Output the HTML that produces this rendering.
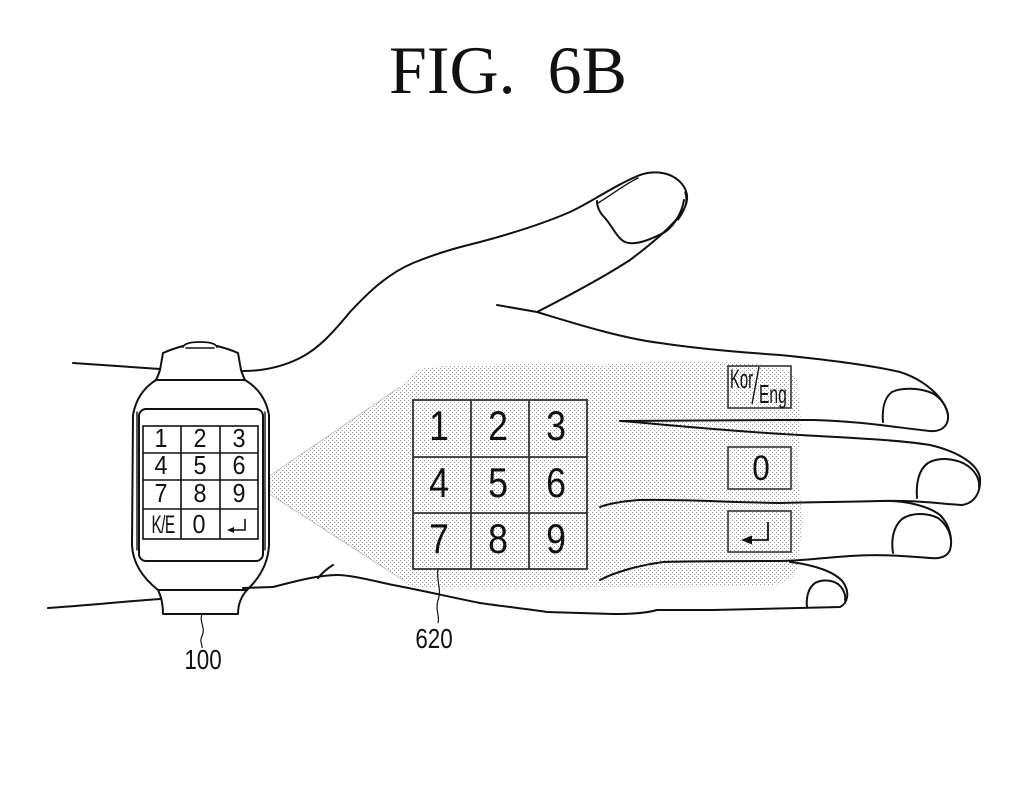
<!DOCTYPE html>
<html>
<head>
<meta charset="utf-8">
<style>
html,body{margin:0;padding:0;background:#fff;}
svg{display:block;}
text{font-family:"Liberation Sans",sans-serif;fill:#111;}
</style>
</head>
<body>
<svg width="1020" height="793" viewBox="0 0 1020 793" xmlns="http://www.w3.org/2000/svg">
<defs>
<pattern id="dots" width="4" height="4" patternUnits="userSpaceOnUse">
<rect x="0" y="0" width="1" height="1" fill="#999"/>
<rect x="2" y="2" width="1" height="1" fill="#999"/>
</pattern>
</defs>
<rect width="1020" height="793" fill="#fff"/>

<!-- Title -->
<text x="389" y="93" font-size="68" style="font-family:'Liberation Serif',serif">FIG.</text>
<text x="627" y="93" text-anchor="end" font-size="68" style="font-family:'Liberation Serif',serif">6B</text>

<!-- projection / stipple region -->
<path d="M268,477 L400,387 L416,370 Q440,364 480,366 Q540,360 600,365 Q660,360 730,362 Q790,364 797,380 L801,420 L797,470 L803,520 L797,570 Q790,586 760,586 L420,588 Q405,586 403,580 L268,493 Z" fill="url(#dots)"/>
<path d="M268,477 L400,387 M268,493 L403,580" stroke="#aaa" stroke-width="0.7" fill="none"/>

<g fill="none" stroke="#111" stroke-width="2" stroke-linecap="round" stroke-linejoin="round">
<!-- wrist lines left -->
<path d="M73,363 C100,365 130,367 160,369"/>
<path d="M48,608 C90,605 130,601 160,599"/>
<!-- hand top / thumb -->
<path d="M243,371 C260,371 280,368 300,358 C320,348 335,330 350,312 C365,296 385,275 413,263 C440,252 460,247 480,242 C510,234 540,225 570,212 C590,203 615,185 640,175 C655,170 672,172 682,184 C690,194 688,205 680,215 C670,228 650,245 630,260 C610,273 580,290 537,312"/>
<path d="M598,203 C610,196 625,184 638,178" stroke-width="1.4"/>
<path d="M685,192 C688,202 685,211 678,220" stroke-width="1.4"/>
<!-- thumbnail -->
<path d="M597,201 C597,208 600,213 605,218 C612,226 617,238 625,242 C635,246 650,240 665,232 C675,225 682,212 684,200"/>
<!-- index finger -->
<path d="M497,305 L537,312 C570,322 620,338 660,343 C700,349 750,353 780,355 C830,360 870,365 900,372 C925,380 945,398 948,415 C949,427 940,432 930,431 C900,428 860,421 813,420 L780,420 C720,420 660,421 620,421"/>
<path d="M883,422 C882,410 884,398 892,392 C902,387 920,388 932,393 C942,398 947,408 948,415"/>
<!-- middle finger -->
<path d="M622,421 C680,426 740,432 800,435 C850,438 900,440 930,445 C960,452 978,465 980,478 C981,492 975,503 962,505 C940,504 920,500 880,501 C840,502 810,502 780,503 C720,502 680,499 640,500 C620,501 605,505 600,507"/>
<path d="M917,498 C916,485 918,470 928,463 C940,456 958,459 968,466 C976,472 980,480 979,487"/>
<!-- ring finger -->
<path d="M880,501 C905,500 928,506 940,515 C950,525 953,540 950,550 C947,557 940,559 930,558 C905,556 880,554 850,556 C820,558 800,561 780,561 C740,561 700,561 663,562 C640,565 615,572 600,580"/>
<path d="M893,553 C891,540 893,527 902,519 C912,512 928,513 938,518 C946,524 950,532 951,540"/>
<!-- pinky -->
<path d="M790,562 C815,565 835,572 843,582 C850,592 848,603 840,607 C800,608 760,609 713,610 C690,610 665,610 657,610 C650,612 640,614 613,614 C580,613 550,612 547,612 C520,608 500,606 480,603 C450,597 420,590 393,585 C370,580 350,575 337,575 C320,575 300,580 273,587 L243,588"/>
<path d="M807,607 C806,598 808,588 815,583 C822,579 832,580 838,584 C844,589 846,596 845,600"/>
<path d="M318,578 C323,572 328,568 333,565"/>

<!-- watch -->
<path d="M183,347 Q185,342 200,342 Q215,342 217,347" stroke-width="1.8"/>
<path d="M186,348 L214,348" stroke-width="1.6"/>
<path d="M183,346 Q172,349 163,353 L160,370 Q158,376 156,380 Q137,392 133,415 L132,545 Q133,570 158,590 Q163,600 163,614 L238,614 Q238,600 247,590 Q268,570 269,545 L269,415 Q265,392 245,380 Q243,376 241,370 L238,353 Q229,349 217,346"/>
<path d="M156,380 L245,380"/>
<path d="M158,590 L247,590"/>
<path d="M137,412 L137,550 M265,412 L265,550" stroke-width="1.4"/>
<rect x="139" y="409" width="124" height="152" rx="7" ry="7"/>
</g>

<!-- watch keypad -->
<g fill="none" stroke="#111" stroke-width="1.6">
<rect x="143" y="426" width="115" height="113"/>
<path d="M181,426 L181,539 M220,426 L220,539 M143,453 L258,453 M143,480 L258,480 M143,509 L258,509"/>
</g>
<g font-size="26" text-anchor="middle">
<text transform="translate(161,447) scale(0.9,1)">1</text>
<text transform="translate(200,447) scale(0.9,1)">2</text>
<text transform="translate(239,447) scale(0.9,1)">3</text>
<text transform="translate(161,474) scale(0.9,1)">4</text>
<text transform="translate(200,474) scale(0.9,1)">5</text>
<text transform="translate(239,474) scale(0.9,1)">6</text>
<text transform="translate(161,502) scale(0.9,1)">7</text>
<text transform="translate(200,502) scale(0.9,1)">8</text>
<text transform="translate(239,502) scale(0.9,1)">9</text>
<text transform="translate(163,533) scale(0.62,1)" font-size="25" letter-spacing="-1">K/E</text>
<text transform="translate(199,533) scale(0.9,1)">0</text>
</g>
<path d="M245,519 L245,530 L233,530" fill="none" stroke="#111" stroke-width="1.6"/>
<path d="M227,530 L234,527 L234,533 Z" fill="#111"/>

<!-- leaders -->
<path d="M202,614 C199,622 206,628 202,636 C199,642 203,645 202,648" fill="none" stroke="#111" stroke-width="1.2"/>
<path d="M438,569 C436,580 442,590 438,600 C435,610 440,616 438,623" fill="none" stroke="#111" stroke-width="1.2"/>
<text transform="translate(203,669) scale(0.8,1)" font-size="28" text-anchor="middle">100</text>
<text transform="translate(434,648) scale(0.8,1)" font-size="28" text-anchor="middle">620</text>

<!-- big keypad -->
<g fill="none" stroke="#333" stroke-width="1.8">
<rect x="413" y="400" width="174" height="169"/>
<path d="M471,400 L471,569 M529,400 L529,569 M413,457 L587,457 M413,513 L587,513"/>
</g>
<g font-size="42" text-anchor="middle">
<text transform="translate(439,440) scale(0.85,1)">1</text>
<text transform="translate(498,440) scale(0.85,1)">2</text>
<text transform="translate(556,440) scale(0.85,1)">3</text>
<text transform="translate(439,497) scale(0.85,1)">4</text>
<text transform="translate(498,497) scale(0.85,1)">5</text>
<text transform="translate(556,497) scale(0.85,1)">6</text>
<text transform="translate(439,553) scale(0.85,1)">7</text>
<text transform="translate(498,553) scale(0.85,1)">8</text>
<text transform="translate(556,553) scale(0.85,1)">9</text>
</g>

<!-- finger keys -->
<g fill="none" stroke="#333" stroke-width="1.6">
<rect x="728" y="366" width="63" height="42"/>
<rect x="728" y="447" width="63" height="42"/>
<rect x="728" y="511" width="63" height="41"/>
</g>
<text transform="translate(730,388) scale(0.55,1)" font-size="27">Kor</text>
<path d="M752,404 L759,367" stroke="#111" stroke-width="1.4"/>
<text transform="translate(759,403) scale(0.6,1)" font-size="26">Eng</text>
<text transform="translate(761,480) scale(0.9,1)" font-size="35" text-anchor="middle">0</text>
<path d="M768,522 L768,540 L751,540" fill="none" stroke="#111" stroke-width="1.8"/>
<path d="M741,540 L752,535.5 L752,544.5 Z" fill="#111"/>
</svg>
</body>
</html>
